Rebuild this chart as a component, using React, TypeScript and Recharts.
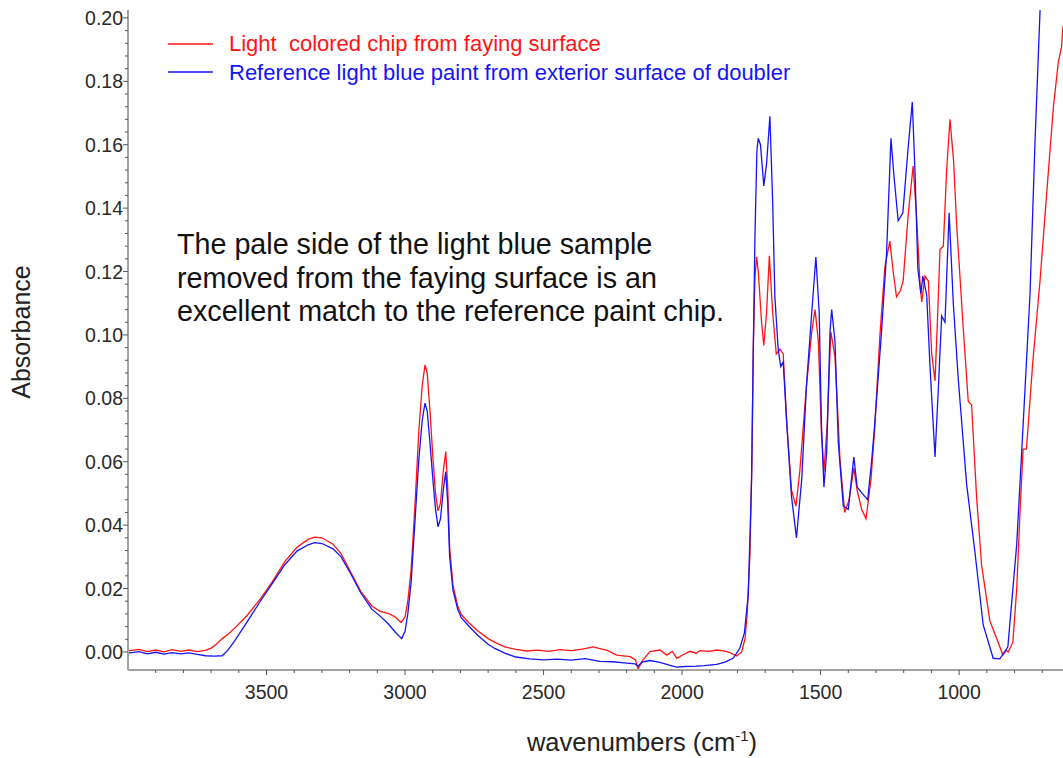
import { LineChart, Line, XAxis, YAxis } from "recharts";

// red trace: light coloured chip from the faying surface
const redWn = [
	4000, 3960, 3930, 3900, 3870, 3840, 3810, 3780, 3750, 3720, 3700, 3680, 3660, 3640, 3615, 3570, 3520, 3480, 3434, 3390,
	3350, 3326, 3300, 3260, 3231, 3195, 3159, 3120, 3090, 3061, 3035, 3014, 3000, 2990, 2978, 2965, 2950, 2938, 2928, 2920,
	2910, 2900, 2890, 2881, 2872, 2862, 2853, 2846, 2839, 2827, 2810, 2797, 2770, 2737, 2700, 2676, 2640, 2600, 2560, 2520,
	2480, 2440, 2400, 2360, 2320, 2300, 2270, 2236, 2187, 2168, 2159, 2141, 2116, 2080, 2055, 2035, 2019, 1995, 1971, 1950,
	1935, 1900, 1875, 1850, 1827, 1803, 1785, 1773, 1765, 1755, 1748, 1743, 1737, 1731, 1725, 1713, 1705, 1695, 1685, 1673,
	1660, 1647, 1635, 1622, 1605, 1589, 1575, 1551, 1532, 1520, 1508, 1497, 1488, 1476, 1463, 1448, 1430, 1413, 1398, 1380,
	1368, 1352, 1336, 1318, 1305, 1286, 1268, 1250, 1238, 1226, 1212, 1202, 1184, 1166, 1154, 1141, 1135, 1123, 1111, 1099,
	1087, 1078, 1069, 1057, 1045, 1033, 1020, 1009, 985, 967, 955, 937, 919, 889, 865, 842, 830, 823, 806, 792,
	781, 769, 757, 734, 708, 684, 660, 642, 630, 625,
];
const redAbs = [
	0.0003, 0.0008, 0.0001, 0.0006, 0.0, 0.0007, 0.0002, 0.0006, 0.0001, 0.0005, 0.0012, 0.0025, 0.0042, 0.0055, 0.0075, 0.0115, 0.017, 0.022, 0.0285, 0.033,
	0.0355, 0.0362, 0.036, 0.034, 0.031, 0.025, 0.019, 0.0145, 0.0128, 0.0122, 0.011, 0.0093, 0.011, 0.016, 0.026, 0.045, 0.07, 0.084, 0.0905, 0.088,
	0.076, 0.062, 0.05, 0.0445, 0.047, 0.057, 0.0632, 0.052, 0.033, 0.021, 0.0145, 0.0118, 0.0092, 0.0066, 0.0042, 0.003, 0.0016, 0.0008, 0.0003, 0.0006,
	0.0002, 0.0007, 0.0004, 0.0009, 0.0016, 0.0011, 0.0005, -0.001, -0.0015, -0.0025, -0.0054, -0.0025, 0.0001, 0.0006, -0.001, 0.0002, -0.002, -0.0008, 0.0002, -0.0004,
	0.0004, 0.0002, 0.0006, 0.0003, -0.0002, -0.0013, 0.0, 0.004, 0.012, 0.031, 0.06, 0.0955, 0.118, 0.1246, 0.12, 0.104, 0.0967, 0.107, 0.125, 0.107,
	0.094, 0.0955, 0.094, 0.072, 0.051, 0.046, 0.057, 0.084, 0.101, 0.108, 0.098, 0.069, 0.057, 0.072, 0.101, 0.093, 0.0606, 0.044, 0.0477, 0.058,
	0.051, 0.045, 0.042, 0.0546, 0.07, 0.0997, 0.1214, 0.1296, 0.12, 0.112, 0.114, 0.117, 0.1377, 0.1533, 0.138, 0.116, 0.1104, 0.1186, 0.117, 0.094,
	0.0855, 0.105, 0.127, 0.128, 0.152, 0.168, 0.155, 0.135, 0.102, 0.079, 0.078, 0.049, 0.0275, 0.0098, 0.0044, -0.001, 0.0005, 0.0, 0.003, 0.02,
	0.0425, 0.064, 0.064, 0.0915, 0.117, 0.1445, 0.1716, 0.186, 0.191, 0.1975,
];

// blue trace: reference paint from the doubler
const blueWn = [
	4000, 3960, 3930, 3900, 3870, 3840, 3810, 3780, 3750, 3720, 3690, 3660, 3640, 3615, 3570, 3520, 3480, 3434, 3390, 3350,
	3326, 3300, 3260, 3231, 3195, 3159, 3120, 3090, 3060, 3035, 3012, 3000, 2990, 2978, 2965, 2950, 2938, 2928, 2920, 2910,
	2900, 2890, 2881, 2872, 2862, 2853, 2846, 2839, 2827, 2810, 2797, 2770, 2737, 2700, 2676, 2640, 2600, 2550, 2500, 2450,
	2400, 2350, 2296, 2250, 2200, 2170, 2159, 2145, 2116, 2080, 2040, 2019, 1990, 1950, 1920, 1875, 1845, 1816, 1800, 1791,
	1775, 1761, 1749, 1743, 1737, 1730, 1725, 1717, 1705, 1695, 1683, 1673, 1665, 1653, 1644, 1635, 1622, 1605, 1587, 1568,
	1551, 1532, 1517, 1505, 1497, 1488, 1478, 1466, 1460, 1448, 1436, 1418, 1400, 1380, 1368, 1350, 1330, 1316, 1304, 1280,
	1262, 1246, 1235, 1220, 1203, 1185, 1169, 1159, 1149, 1138, 1131, 1117, 1105, 1087, 1075, 1063, 1051, 1036, 1021, 1003,
	973, 943, 913, 877, 853, 824, 792, 762, 744, 726, 708, 690,
];
const blueAbs = [
	-0.0004, 0.0001, -0.0006, -0.0001, -0.0007, -0.0002, -0.0006, -0.0003, -0.0008, -0.0012, -0.0013, -0.0012, 0.0005, 0.0035, 0.0095, 0.0163, 0.0215, 0.0275, 0.0318, 0.0338,
	0.0345, 0.0342, 0.0325, 0.03, 0.0245, 0.0185, 0.0135, 0.0113, 0.0088, 0.0062, 0.0042, 0.0065, 0.012, 0.022, 0.04, 0.061, 0.073, 0.0785, 0.076, 0.066,
	0.055, 0.045, 0.0395, 0.042, 0.051, 0.0569, 0.047, 0.03, 0.0195, 0.0135, 0.0108, 0.0082, 0.0052, 0.0024, 0.0011, -0.0004, -0.0016, -0.0022, -0.0025, -0.0023,
	-0.0026, -0.0021, -0.003, -0.0031, -0.0035, -0.0038, -0.0045, -0.0032, -0.0027, -0.0033, -0.0043, -0.0048, -0.0046, -0.0045, -0.0043, -0.0039, -0.0032, -0.002, 0.0, 0.0013,
	0.006, 0.018, 0.0546, 0.0955, 0.1306, 0.158, 0.162, 0.16, 0.147, 0.154, 0.169, 0.142, 0.112, 0.0955, 0.09, 0.0915, 0.072, 0.049, 0.036, 0.0546,
	0.084, 0.107, 0.1246, 0.107, 0.072, 0.052, 0.063, 0.101, 0.108, 0.098, 0.066, 0.046, 0.045, 0.0615, 0.052, 0.05, 0.048, 0.06, 0.0725, 0.101,
	0.1255, 0.162, 0.15, 0.136, 0.1385, 0.158, 0.1735, 0.151, 0.121, 0.113, 0.1186, 0.1126, 0.09, 0.0615, 0.083, 0.106, 0.104, 0.1385, 0.11, 0.086,
	0.053, 0.0316, 0.0085, -0.002, -0.0022, 0.0016, 0.034, 0.083, 0.113, 0.161, 0.202, 0.24,
];

const xTicks = [
	700, 800, 900, 1000, 1100, 1200, 1300, 1400, 1500, 1600, 1700, 1800, 1900, 2000, 2100, 2200, 2300, 2400, 2500, 2600,
	2700, 2800, 2900, 3000, 3100, 3200, 3300, 3400, 3500, 3600, 3700, 3800, 3900,
];
const yMinorStep = 0.004;
const yTicks = Array.from({ length: 51 }, (_, i) => +(i * yMinorStep).toFixed(3));

const legendLabels = [
	"Light  colored chip from faying surface",
	"Reference light blue paint from exterior surface of doubler",
];
const noteLines = [
	"The pale side of the light blue sample",
	"removed from the faying surface is an",
	"excellent match to the reference paint chip.",
];

const RED = "#ff1414";
const BLUE = "#1414f5";
const FONT = "'Liberation Sans', Arial, sans-serif";
const AXIS = "#a3a3a3";

const redData = redWn.map((wn, i) => ({ wn, a: redAbs[i] }));
const blueData = blueWn.map((wn, i) => ({ wn, a: blueAbs[i] }));

function XTick({ x, y, payload }: any) {
	const v = payload.value;
	const major = v % 500 === 0;
	return (
		<g>
			<line x1={x} x2={x} y1={y} y2={y + (major ? 5 : 3)} stroke="#555" strokeWidth={1} />
			{major && (
				<text x={x} y={y + 29} textAnchor="middle" fill="#2a2a2a" fontSize={19.5} fontFamily={FONT}>
					{v}
				</text>
			)}
		</g>
	);
}

function YTick({ x, y, payload }: any) {
	const idx = Math.round(payload.value / yMinorStep);
	const major = idx % 5 === 0;
	return (
		<g>
			<line x1={x} x2={x - (major ? 5 : 3)} y1={y} y2={y} stroke="#555" strokeWidth={1} />
			{major && (
				<text x={x - 5} y={y + 7} textAnchor="end" fill="#2a2a2a" fontSize={19.5} fontFamily={FONT}>
					{(idx * yMinorStep).toFixed(2)}
				</text>
			)}
		</g>
	);
}

export default function App() {
	return (
		<div style={{ position: "absolute", left: 0, top: 0, width: 1063, height: 758, background: "#fff" }}>
			<LineChart width={1063} height={758} margin={{ top: 10, right: 0, bottom: 0, left: 0 }}>
				<XAxis
					type="number"
					dataKey="wn"
					domain={[625, 4000]}
					reversed
					allowDataOverflow
					ticks={xTicks}
					interval={0}
					height={88}
					tickSize={0}
					tickMargin={0}
					tickLine={false}
					axisLine={{ stroke: AXIS, strokeWidth: 2 }}
					tick={<XTick />}
				/>
				<YAxis
					type="number"
					domain={[-0.0057, 0.2025]}
					allowDataOverflow
					ticks={yTicks}
					interval={0}
					width={128}
					tickSize={0}
					tickMargin={0}
					tickLine={false}
					axisLine={{ stroke: AXIS, strokeWidth: 2 }}
					tick={<YTick />}
				/>
				<Line
					data={redData}
					dataKey="a"
					stroke={RED}
					strokeWidth={1.3}
					dot={false}
					isAnimationActive={false}
				/>
				<Line
					data={blueData}
					dataKey="a"
					stroke={BLUE}
					strokeWidth={1.3}
					dot={false}
					isAnimationActive={false}
				/>
			</LineChart>
			<svg
				width={1063}
				height={758}
				style={{ position: "absolute", left: 0, top: 0, pointerEvents: "none" }}
				fontFamily={FONT}
			>
				<line x1={168} x2={213} y1={44} y2={44} stroke={RED} strokeWidth={1.5} />
				<text x={229} y={51} fill={RED} fontSize={22} style={{ whiteSpace: "pre" }}>
					{legendLabels[0]}
				</text>
				<line x1={168} x2={213} y1={72} y2={72} stroke={BLUE} strokeWidth={1.5} />
				<text x={229} y={80} fill={BLUE} fontSize={22}>
					{legendLabels[1]}
				</text>
				{noteLines.map((t, i) => (
					<text key={i} x={177} y={254 + i * 33.5} fill="#111" fontSize={28.7}>
						{t}
					</text>
				))}
				<text
					transform="translate(30 332) rotate(-90)"
					textAnchor="middle"
					fill="#222"
					fontSize={25}
				>
					Absorbance
				</text>
				<text x={642} y={751} textAnchor="middle" fill="#222" fontSize={25.5}>
					wavenumbers (cm
					<tspan fontSize={15} dy={-10}>-1</tspan>
					<tspan dy={10}>)</tspan>
				</text>
			</svg>
		</div>
	);
}
